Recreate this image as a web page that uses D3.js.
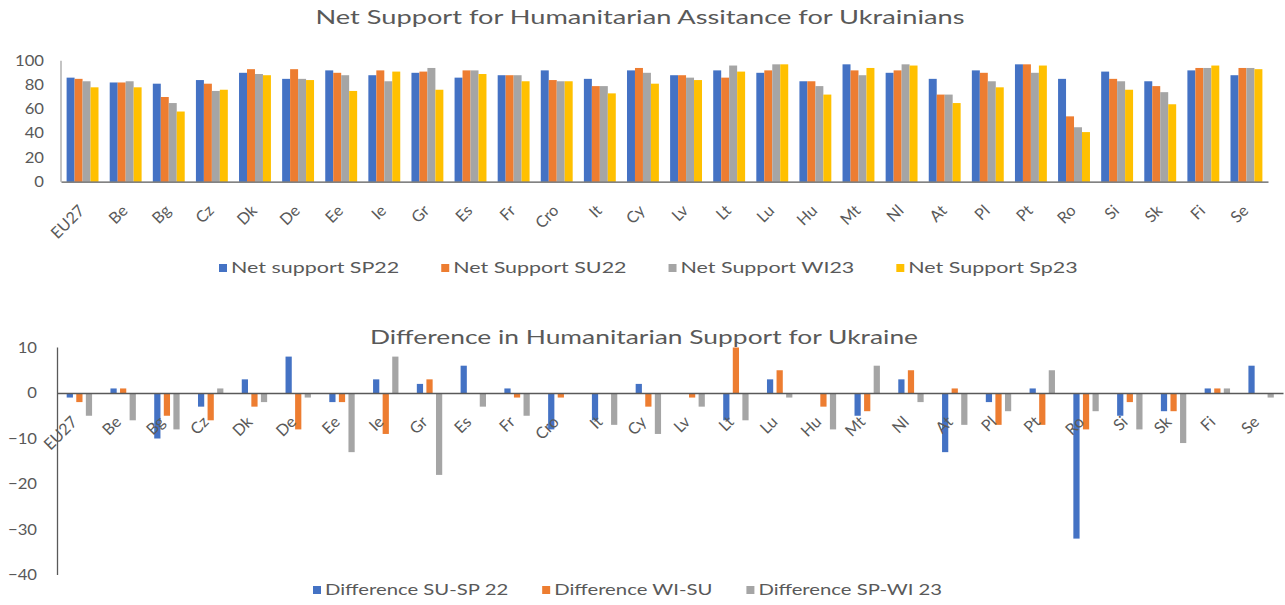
<!DOCTYPE html>
<html><head><meta charset="utf-8">
<script src="https://cdn.jsdelivr.net/npm/d3@7"></script>
<style>
html,body{margin:0;padding:0;background:#fff;}
svg{display:block;font-family:Lato,"Open Sans",sans-serif;}
</style></head>
<body>
<svg id="chart" width="1285" height="605"></svg>
<script>
const categories = ["EU27","Be","Bg","Cz","Dk","De","Ee","Ie","Gr","Es","Fr","Cro","It","Cy","Lv","Lt","Lu","Hu","Mt","Nl","At","Pl","Pt","Ro","Si","Sk","Fi","Se"];

const topSeriesNames = ["Net support SP22","Net Support SU22","Net Support WI23","Net Support Sp23"];
const netSupportSP22 = [86,82,81,84,90,85,92,88,90,86,88,92,85,92,88,92,90,83,97,90,85,92,97,85,91,83,92,88];
const netSupportSU22 = [85,82,70,81,93,93,90,92,91,92,88,84,79,94,88,86,92,83,92,92,72,90,97,54,85,79,94,94];
const netSupportWI23 = [83,83,65,75,89,85,88,83,94,92,88,83,79,90,86,96,97,79,88,97,72,83,90,45,83,74,94,94];
const netSupportSp23 = [78,78,58,76,88,84,75,91,76,89,83,83,73,81,84,91,97,72,94,96,65,78,96,41,76,64,96,93];
const topTicks = [0,20,40,60,80,100];

const bottomSeriesNames = ["Difference SU-SP 22","Difference WI-SU","Difference SP-WI 23"];
const diffSUSP22 = [-1,1,-10,-3,3,8,-2,3,2,6,1,-8,-6,2,0,-6,3,0,-5,3,-13,-2,1,-32,-5,-4,1,6];
const diffWISU   = [-2,1,-5,-6,-3,-8,-2,-9,3,0,-1,-1,0,-3,-1,10,5,-3,-4,5,1,-7,-7,-8,-2,-4,1,0];
const diffSPWI23 = [-5,-6,-8,1,-2,-1,-13,8,-18,-3,-5,0,-7,-9,-3,-6,-1,-8,6,-2,-7,-4,5,-4,-8,-11,1,-1];
const bottomTicks = [-40,-30,-20,-10,0,10];

const colors = ["#4472C4","#ED7D31","#A5A5A5","#FFC000"];
const textColor = "#595959";

const svg = d3.select("#chart");

function stretchedText(parent, x, y, txt, size, anchor, sx, extra){
  return parent.append("text")
    .attr("transform", `translate(${x},${y}) scale(${sx},1)${extra||""}`)
    .attr("text-anchor", anchor)
    .attr("fill", textColor)
    .attr("font-size", size)
    .text(txt);
}

function drawChart(cfg){
  const g = svg.append("g");
  const series = cfg.series;
  const x0 = d3.scaleBand().domain(categories).range([cfg.left, cfg.right])
      .paddingInner(cfg.padInner).paddingOuter(cfg.padInner/2);
  const x1 = d3.scaleBand().domain(d3.range(series.length)).range([0, x0.bandwidth()]).paddingInner(cfg.barPad);
  const y = d3.scaleLinear().domain(cfg.domain).range(cfg.yRange);

  // bars
  categories.forEach((c,i)=>{
    series.forEach((s,j)=>{
      const v = s[i];
      g.append("rect")
        .attr("x", x0(c)+x1(j))
        .attr("width", x1.bandwidth())
        .attr("y", Math.min(y(v), y(0)))
        .attr("height", Math.abs(y(v)-y(0)))
        .attr("fill", colors[j]);
    });
  });

  // y axis labels
  cfg.ticks.forEach(t=>{
    stretchedText(g, cfg.yLabelX, y(t)+5, d3.format("d")(t), 14.5, "end", 1.15);
  });
  g.append("line").attr("x1",cfg.left).attr("x2",cfg.left)
    .attr("y1",y(cfg.domain[1])).attr("y2",y(cfg.domain[0]))
    .attr("stroke",cfg.yAxisColor).attr("stroke-width",1.3);

  // x axis line at zero
  const xAxis = d3.axisBottom(x0).tickSize(0).tickFormat("");
  const xa = g.append("g").attr("transform",`translate(0,${y(0)})`).call(xAxis);
  xa.select(".domain").attr("stroke","#595959").attr("stroke-width",1.3);

  // category labels (rotated -45deg)
  categories.forEach(c=>{
    const cx = x0(c) + x0.bandwidth()/2 + cfg.labelDx;
    g.append("text")
      .attr("transform", `translate(${cx},${y(0)+cfg.labelDy}) rotate(-45)`)
      .attr("text-anchor","end")
      .attr("fill",textColor)
      .attr("font-size",16)
      .text(c);
  });

  // title
  stretchedText(svg, cfg.titleX, cfg.titleY, cfg.title, 20, "middle", cfg.titleStretch);

  // legend
  const lg = svg.append("g");
  let lx = cfg.legendX;
  cfg.names.forEach((n,j)=>{
    lg.append("rect").attr("x",lx).attr("y",cfg.legendY-4).attr("width",8).attr("height",8).attr("fill",colors[j]);
    const t = stretchedText(lg, lx+12, cfg.legendY+5, n, 14.5, "start", cfg.legendStretch);
    lx += 12 + t.node().getComputedTextLength()*cfg.legendStretch + cfg.legendGap;
  });
}

drawChart({
  series:[netSupportSP22,netSupportSU22,netSupportWI23,netSupportSp23],
  names: topSeriesNames,
  left:61, right:1268, padInner:0.26, barPad:0,
  domain:[0,100], yRange:[181.7,60.7], ticks: topTicks, yLabelX:44,
  yAxisColor:"#A5A5A5", labelDx:3, labelDy:30,
  title:"Net Support for Humanitarian Assitance for Ukrainians", titleX:640, titleY:24, titleStretch:1.36,
  legendX:219, legendY:268, legendGap:42, legendStretch:1.48
});

drawChart({
  series:[diffSUSP22,diffWISU,diffSPWI23],
  names: bottomSeriesNames,
  left:57.5, right:1283, padInner:0.42, barPad:0.35,
  domain:[-40,10], yRange:[575,347.5], ticks: bottomTicks, yLabelX:37,
  yAxisColor:"#595959", labelDx:-1, labelDy:30,
  title:"Difference in Humanitarian Support for Ukraine", titleX:644, titleY:344, titleStretch:1.32,
  legendX:313, legendY:590, legendGap:34, legendStretch:1.4
});
</script>
</body></html>
